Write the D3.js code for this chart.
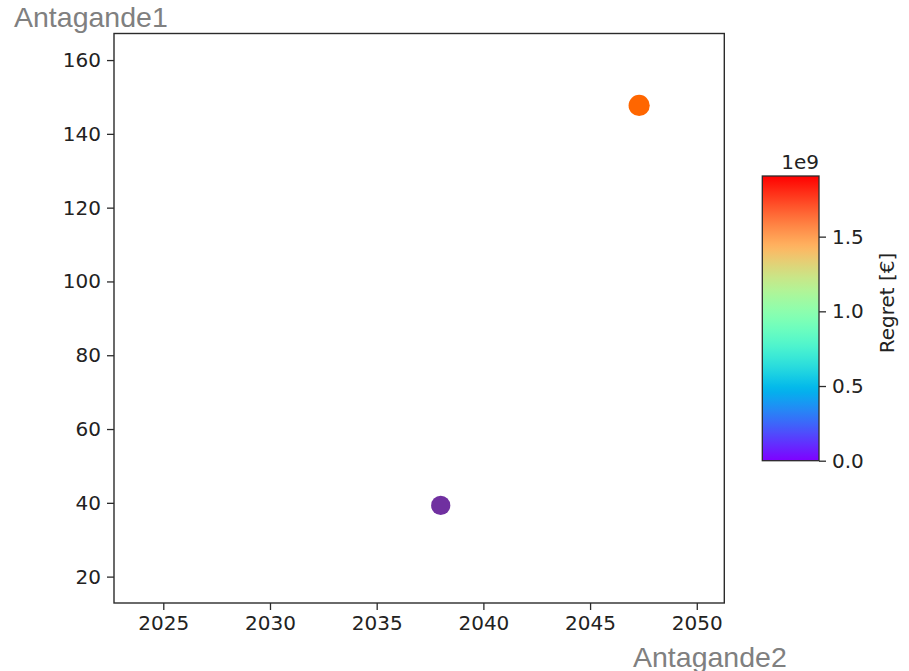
<!DOCTYPE html>
<html>
<head>
<meta charset="utf-8">
<script src="https://cdn.jsdelivr.net/npm/d3@7/dist/d3.min.js"></script>
<style>
  html, body { margin: 0; padding: 0; background: #fff; }
  svg { display: block; }
</style>
</head>
<body>
<svg id="chart" width="909" height="671"></svg>
<script>
// Scenario points: year (Antagande2) against value (Antagande1), coloured by regret
const scenarios = ["A", "B"];
const years = [2038.0, 2047.3];
const values = [39.3, 147.7];
const regret = [0.0, 1.906e9];
const pointFill = ["#7030a0", "#ff6600"];
const pointRadius = [9.6, 10.6];

const xTicks = [2025, 2030, 2035, 2040, 2045, 2050];
const yTicks = [20, 40, 60, 80, 100, 120, 140, 160];
const cbTicks = [0.0, 0.5e9, 1.0e9, 1.5e9];

const xLimits = [2022.69, 2051.29];
const yLimits = [12.85, 167.2];

const svg = d3.select("#chart");
const tickFont = "'DejaVu Sans', sans-serif";
const axisColor = "#2b2b2b";

const plot = { left: 114, top: 33.5, right: 724.3, bottom: 603 };
const x = d3.scaleLinear().domain(xLimits).range([plot.left, plot.right]);
const y = d3.scaleLinear().domain(yLimits).range([plot.bottom, plot.top]);

// Axes
const xAxis = svg.append("g")
  .attr("transform", `translate(0,${plot.bottom})`)
  .call(d3.axisBottom(x).tickValues(xTicks).tickSize(7).tickPadding(6).tickFormat(d3.format("d")));
const yAxis = svg.append("g")
  .attr("transform", `translate(${plot.left},0)`)
  .call(d3.axisLeft(y).tickValues(yTicks).tickSize(7).tickPadding(6).tickFormat(d3.format("d")));

[xAxis, yAxis].forEach(g => {
  g.select(".domain").remove();
  g.selectAll(".tick line").attr("stroke", axisColor).attr("stroke-width", 1.3);
  g.selectAll(".tick text")
    .attr("fill", "#222")
    .style("font-family", tickFont)
    .style("font-size", "20px");
});

// Frame
svg.append("rect")
  .attr("x", plot.left).attr("y", plot.top)
  .attr("width", plot.right - plot.left).attr("height", plot.bottom - plot.top)
  .attr("fill", "none").attr("stroke", axisColor).attr("stroke-width", 1.4);

// Points
svg.append("g").selectAll("circle")
  .data(scenarios)
  .join("circle")
  .attr("cx", (d, i) => x(years[i]))
  .attr("cy", (d, i) => y(values[i]))
  .attr("r", (d, i) => pointRadius[i])
  .attr("fill", (d, i) => pointFill[i]);

// Colour bar (matplotlib "rainbow" colormap)
function rainbow(t) {
  const r = Math.min(1, Math.abs(2 * t - 0.5));
  const g = Math.sin(Math.PI * t);
  const b = Math.cos(Math.PI * t / 2);
  return d3.rgb(r * 255, Math.max(0, g) * 255, Math.max(0, b) * 255).formatHex();
}

const cb = { left: 762.3, right: 819, top: 176, bottom: 460.7 };
const cbScale = d3.scaleLinear().domain([0, d3.max(regret)]).range([cb.bottom, cb.top]);

const defs = svg.append("defs");
const grad = defs.append("linearGradient")
  .attr("id", "rainbowGrad")
  .attr("x1", 0).attr("y1", 1).attr("x2", 0).attr("y2", 0);
d3.range(0, 1.0001, 0.02).forEach(t => {
  grad.append("stop").attr("offset", t).attr("stop-color", rainbow(t));
});

svg.append("rect")
  .attr("x", cb.left).attr("y", cb.top)
  .attr("width", cb.right - cb.left).attr("height", cb.bottom - cb.top)
  .attr("fill", "url(#rainbowGrad)")
  .attr("stroke", axisColor).attr("stroke-width", 1.3);

const cbAxis = svg.append("g")
  .attr("transform", `translate(${cb.right},0)`)
  .call(d3.axisRight(cbScale).tickValues(cbTicks).tickSize(7).tickPadding(6)
    .tickFormat(d => (d / 1e9).toFixed(1)));
cbAxis.select(".domain").remove();
cbAxis.selectAll(".tick line").attr("stroke", axisColor).attr("stroke-width", 1.3);
cbAxis.selectAll(".tick text")
  .attr("fill", "#222")
  .style("font-family", tickFont)
  .style("font-size", "20px");

// Offset text for the colour bar
svg.append("text")
  .attr("x", cb.right).attr("y", 169)
  .attr("text-anchor", "end")
  .attr("fill", "#222")
  .style("font-family", tickFont)
  .style("font-size", "20px")
  .text("1e9");

// Colour bar label
svg.append("text")
  .attr("transform", `translate(894,303) rotate(-90)`)
  .attr("text-anchor", "middle")
  .attr("fill", "#222")
  .style("font-family", tickFont)
  .style("font-size", "20px")
  .text("Regret [€]");

// Axis titles
svg.append("text")
  .attr("x", 14).attr("y", 27)
  .attr("fill", "#808080")
  .style("font-family", "'Liberation Sans', Arial, sans-serif")
  .style("font-size", "28.5px")
  .text("Antagande1");

svg.append("text")
  .attr("x", 633).attr("y", 667)
  .attr("fill", "#808080")
  .style("font-family", "'Liberation Sans', Arial, sans-serif")
  .style("font-size", "28.5px")
  .text("Antagande2");
</script>
</body>
</html>
